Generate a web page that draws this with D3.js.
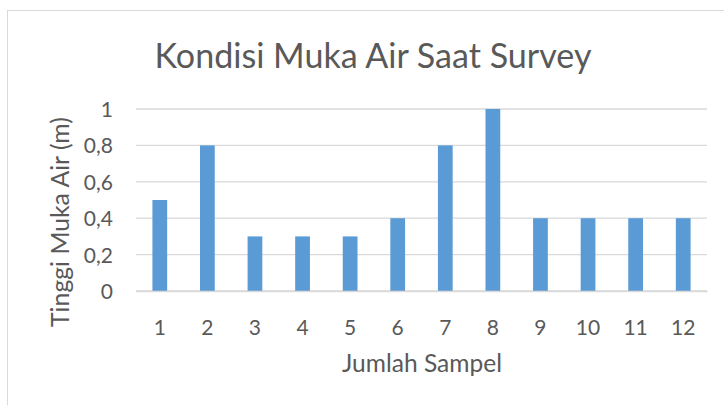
<!DOCTYPE html>
<html><head><meta charset="utf-8">
<script src="https://cdn.jsdelivr.net/npm/d3@7"></script>
<style>body{margin:0;background:#fff}svg{display:block}text{font-family:Lato,"Open Sans",sans-serif;fill:#595959}</style>
</head><body><svg id="c" width="724" height="405"></svg>
<script>
const categories = ["1","2","3","4","5","6","7","8","9","10","11","12"];
const values = [0.5,0.8,0.3,0.3,0.3,0.4,0.8,1,0.4,0.4,0.4,0.4];
const yTicks = [0,0.2,0.4,0.6,0.8,1];
const title = "Kondisi Muka Air Saat Survey";
const xTitle = "Jumlah Sampel";
const yTitle = "Tinggi Muka Air (m)";

const svg = d3.select("#c");
svg.append("rect").attr("x",7.5).attr("y",10.5).attr("width",730).attr("height",400)
  .attr("fill","#fff").attr("stroke","#d9d9d9");
const m = {l:136,r:707,t:109,b:291};
const x = d3.scaleBand().domain(categories).range([m.l,m.r]).paddingInner(0.69).paddingOuter(0.345);
const y = d3.scaleLinear().domain([0,1]).range([m.b,m.t]);

svg.append("g").selectAll("line").data(yTicks).join("line")
  .attr("x1",m.l).attr("x2",m.r).attr("y1",d=>y(d)).attr("y2",d=>y(d))
  .attr("stroke","#d9d9d9").attr("stroke-width",1.3);

svg.append("g").selectAll("rect").data(values).join("rect")
  .attr("x",(d,i)=>x(categories[i])).attr("width",x.bandwidth())
  .attr("y",d=>y(d)).attr("height",d=>y(0)-y(d)).attr("fill","#5b9bd5");

const yAxis = svg.append("g").attr("transform",`translate(${m.l},0)`)
  .call(d3.axisLeft(y).tickValues(yTicks).tickSize(0).tickPadding(23).tickFormat(d=>String(d).replace(".",",")));
yAxis.select(".domain").remove();
yAxis.selectAll("text").attr("font-size",21).attr("fill","#595959").attr("dy","0.36em");

const xAxis = svg.append("g").attr("transform",`translate(0,${m.b})`)
  .call(d3.axisBottom(x).tickSize(0).tickPadding(0));
xAxis.select(".domain").attr("stroke","#d9d9d9").attr("stroke-width",1.3);
xAxis.selectAll("text").attr("font-size",21).attr("fill","#595959").attr("dy",0).attr("y",44);

function fit(sel, w){
  const base = +sel.attr("font-size");
  const len = sel.node().getComputedTextLength();
  sel.attr("font-size", base*w/len);
}
fit(svg.append("text").attr("x",373).attr("y",68).attr("text-anchor","middle").attr("font-size",30).text(title), 437);
fit(svg.append("text").attr("x",422).attr("y",372).attr("text-anchor","middle").attr("font-size",20).text(xTitle), 160);
fit(svg.append("text").attr("transform","translate(69,222) rotate(-90)").attr("text-anchor","middle").attr("font-size",20).text(yTitle), 210);
</script></body></html>
